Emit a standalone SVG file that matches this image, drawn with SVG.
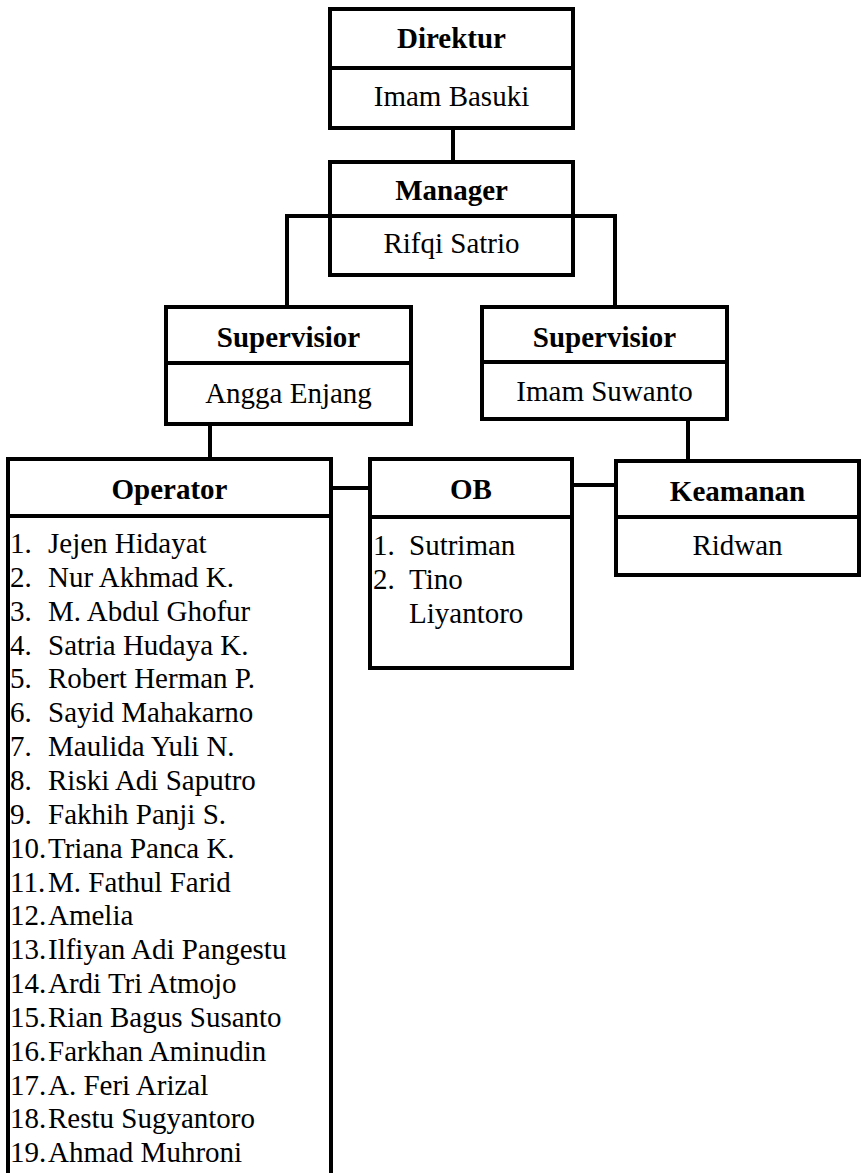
<svg xmlns="http://www.w3.org/2000/svg" width="862" height="1173" viewBox="0 0 862 1173">
<style>
.box{fill:#fff;stroke:#000;stroke-width:4}
.div{stroke:#000;stroke-width:4}
.con{fill:none;stroke:#000;stroke-width:4}
text{font-family:"Liberation Serif","Times New Roman",serif;font-size:29px;fill:#000}
.h{font-weight:bold;text-anchor:middle}
.c{text-anchor:middle}
</style>
<rect width="862" height="1173" fill="#fff"/>
<g id="connectors">
<path class="con" d="M453,128 V162"/>
<path class="con" d="M287,307 V216 H615 V307"/>
<path class="con" d="M210,424 V459"/>
<path class="con" d="M688,419 V461"/>
<path class="con" d="M331,488 H370"/>
<path class="con" d="M572,485 H616"/>
</g>
<g id="direktur">
<rect class="box" x="330" y="9" width="243" height="119"/>
<line class="div" x1="330" y1="68" x2="573" y2="68"/>
<text class="h" x="451.5" y="48">Direktur</text>
<text class="c" x="451.5" y="106">Imam Basuki</text>
</g>
<g id="manager">
<rect class="box" x="330" y="162" width="243" height="113"/>
<line class="div" x1="287" y1="216" x2="615" y2="216"/>
<text class="h" x="451.5" y="200">Manager</text>
<text class="c" x="451.5" y="253">Rifqi Satrio</text>
</g>
<g id="supervisor-left">
<rect class="box" x="166" y="307" width="245" height="117"/>
<line class="div" x1="166" y1="363" x2="411" y2="363"/>
<text class="h" x="288.5" y="347">Supervisior</text>
<text class="c" x="288.5" y="403">Angga Enjang</text>
</g>
<g id="supervisor-right">
<rect class="box" x="482" y="307" width="245" height="112"/>
<line class="div" x1="482" y1="362" x2="727" y2="362"/>
<text class="h" x="604.5" y="347">Supervisior</text>
<text class="c" x="604.5" y="401">Imam Suwanto</text>
</g>
<g id="operator">
<rect class="box" x="8" y="459" width="323" height="740"/>
<line class="div" x1="8" y1="516" x2="331" y2="516"/>
<text class="h" x="169.5" y="499">Operator</text>
<text x="10" y="553">1.</text><text x="48" y="553">Jejen Hidayat</text>
<text x="10" y="586.85">2.</text><text x="48" y="586.85">Nur Akhmad K.</text>
<text x="10" y="620.7">3.</text><text x="48" y="620.7">M. Abdul Ghofur</text>
<text x="10" y="654.55">4.</text><text x="48" y="654.55">Satria Hudaya K.</text>
<text x="10" y="688.4">5.</text><text x="48" y="688.4">Robert Herman P.</text>
<text x="10" y="722.25">6.</text><text x="48" y="722.25">Sayid Mahakarno</text>
<text x="10" y="756.1">7.</text><text x="48" y="756.1">Maulida Yuli N.</text>
<text x="10" y="789.95">8.</text><text x="48" y="789.95">Riski Adi Saputro</text>
<text x="10" y="823.8">9.</text><text x="48" y="823.8">Fakhih Panji S.</text>
<text x="10" y="857.65">10.</text><text x="48" y="857.65">Triana Panca K.</text>
<text x="10" y="891.5">11.</text><text x="48" y="891.5">M. Fathul Farid</text>
<text x="10" y="925.35">12.</text><text x="48" y="925.35">Amelia</text>
<text x="10" y="959.2">13.</text><text x="48" y="959.2">Ilfiyan Adi Pangestu</text>
<text x="10" y="993.05">14.</text><text x="48" y="993.05">Ardi Tri Atmojo</text>
<text x="10" y="1026.9">15.</text><text x="48" y="1026.9">Rian Bagus Susanto</text>
<text x="10" y="1060.75">16.</text><text x="48" y="1060.75">Farkhan Aminudin</text>
<text x="10" y="1094.6">17.</text><text x="48" y="1094.6">A. Feri Arizal</text>
<text x="10" y="1128.45">18.</text><text x="48" y="1128.45">Restu Sugyantoro</text>
<text x="10" y="1162.3">19.</text><text x="48" y="1162.3">Ahmad Muhroni</text>
</g>
<g id="ob">
<rect class="box" x="370" y="459" width="202" height="209"/>
<line class="div" x1="370" y1="517" x2="572" y2="517"/>
<text class="h" x="471" y="499">OB</text>
<text x="373" y="555">1.</text><text x="409" y="555">Sutriman</text>
<text x="373" y="589">2.</text><text x="409" y="589">Tino</text>
<text x="409" y="623">Liyantoro</text>
</g>
<g id="keamanan">
<rect class="box" x="616" y="461" width="243" height="114"/>
<line class="div" x1="616" y1="517" x2="859" y2="517"/>
<text class="h" x="737.5" y="501">Keamanan</text>
<text class="c" x="737.5" y="555">Ridwan</text>
</g>
</svg>
